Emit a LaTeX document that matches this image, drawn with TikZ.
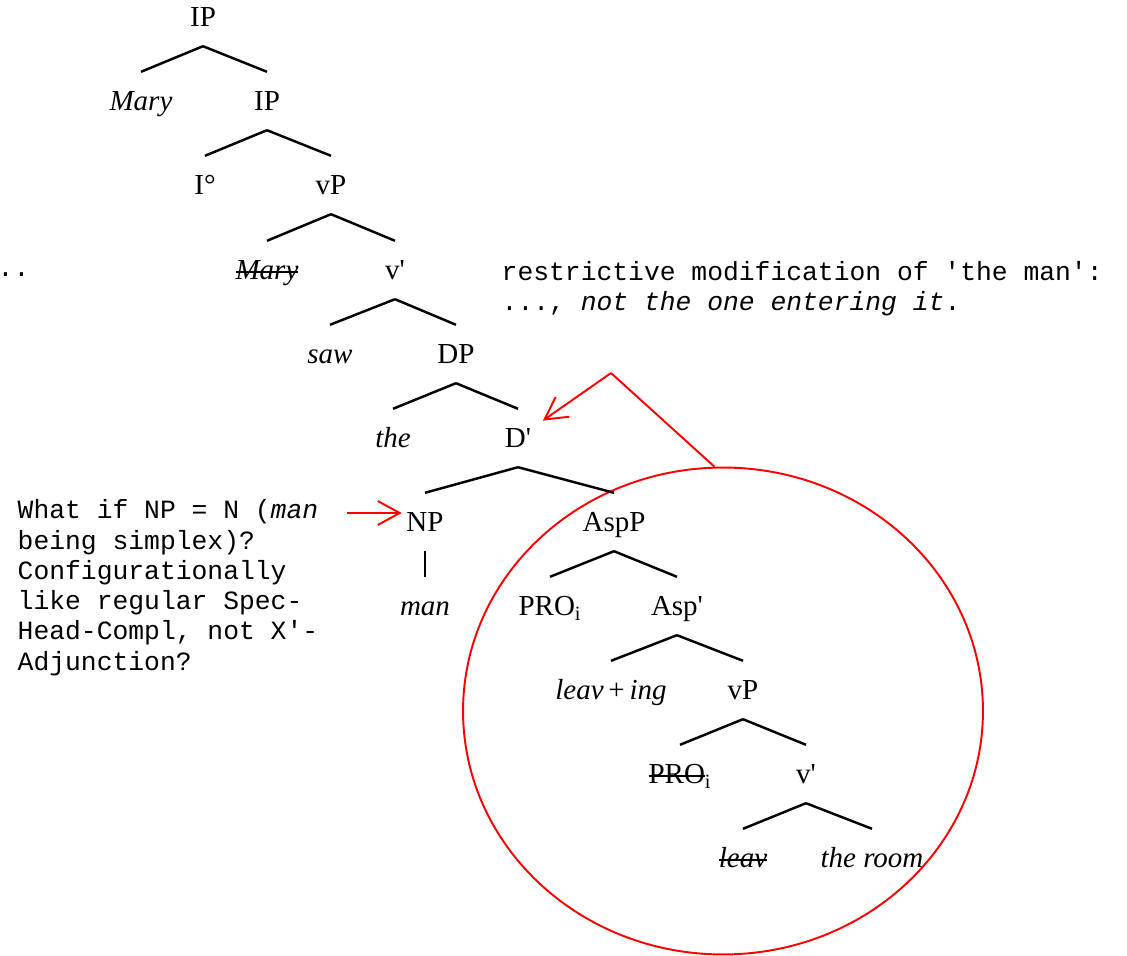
\documentclass[tikz,border=0pt]{standalone}
\usepackage{fontspec}
\usetikzlibrary{shapes.geometric,arrows.meta}
\newfontfamily\treefont{Liberation Serif}
\newfontfamily\notefont{Liberation Mono}
\newsavebox{\strkbox}
\newcommand{\strk}[1]{\sbox{\strkbox}{#1}\rlap{\rule[0.24em]{\wd\strkbox}{0.9pt}}\usebox{\strkbox}}
\begin{document}
\begin{tikzpicture}[x=0.02cm,y=-0.02cm,
                    thick,tree node/.style={font=\treefont\fontsize{16.5}{18}\selectfont,inner sep=0pt,text height=0.76cm,text depth=0.38cm},
                    note/.style={font=\notefont\fontsize{15}{17.2}\selectfont,align=left,inner sep=0pt},
                    branch/.style={line width=1.4pt},
                    red line/.style={red,line width=1.1pt},
                    red arrow/.style={red line,-{Straight Barb[length=0.44cm,width=0.48cm]}}
                    ]
              \useasboundingbox (0,0) rectangle (1127,956);
              \node[tree node] (ip1) at (203,17) {IP};
              \node[tree node] (mary1) at (141,101) {\textit{Mary}};
              \node[tree node] (ip2) at (267,101) {IP};
              \node[tree node] (i0) at (205,185) {I°};
              \node[tree node] (vp1) at (331,185) {vP};
              \node[tree node] (mary2) at (267,270) {\strk{\textit{Mary}}};
              \node[tree node] (vbar1) at (395,270) {v'};
              \node[tree node] (saw) at (330,354) {\textit{saw}};
              \node[tree node] (dp) at (456,354) {DP};
              \node[tree node] (the1) at (393,438) {\textit{the}};
              \node[tree node] (dbar) at (518,438) {D'};
              \node[tree node] (np) at (425,522) {NP};
              \node[tree node] (aspp) at (614,522) {AspP};
              \node[tree node] (man) at (425,606) {\textit{man}};
              \node[tree node] (pro1) at (550,606) {PRO\textsubscript{i}};
              \node[tree node] (aspbar) at (677,606) {Asp'};
              \node[tree node] (leaving) at (611,690) {\textit{leav}\,+\,\textit{ing}};
              \node[tree node] (vp2) at (743,690) {vP};
              \node[tree node] (pro2) at (680,774) {\strk{PRO}\textsubscript{i}};
              \node[tree node] (vbar2) at (806,774) {v'};
              \node[tree node] (leav) at (743,858) {\strk{\textit{leav}}};
              \node[tree node] (room) at (872,858) {\textit{the room}};
              % notes (base = last line)
              \node[note,anchor=base west] (dots) at (-3,277) {..};
              \node[note,anchor=base west] (restr) at (501,311) {restrictive modification of 'the man':\\..., \textit{not the one entering it}.};
              \node[note,anchor=base west] (query) at (17,670) {What if NP = N (\textit{man}\\being simplex)?\\Configurationally\\like regular Spec-\\Head-Compl, not X'-\\Adjunction?};
              \node[draw=red,line width=1.1pt,ellipse,inner sep=0pt,minimum width=10.4cm,minimum height=9.74cm] (ring) at (723,711) {};
              \coordinate (bend) at (611,373);
              \coordinate (qa) at (347,513);
              \path[branch]%
                (ip1.south) edge (mary1.north)
                (ip1.south) edge (ip2.north)
                (ip2.south) edge (i0.north)
                (ip2.south) edge (vp1.north)
                (vp1.south) edge (mary2.north)
                (vp1.south) edge (vbar1.north)
                (vbar1.south) edge (saw.north)
                (vbar1.south) edge (dp.north)
                (dp.south) edge (the1.north)
                (dp.south) edge (dbar.north)
                (dbar.south) edge (np.north)
                (dbar.south) edge (aspp.north)
                (np.south) edge (man.north)
                (aspp.south) edge (pro1.north)
                (aspp.south) edge (aspbar.north)
                (aspbar.south) edge (leaving.north)
                (aspbar.south) edge (vp2.north)
                (vp2.south) edge (pro2.north)
                (vp2.south) edge (vbar2.north)
                (vbar2.south) edge (leav.north)
                (vbar2.south) edge (room.north);
              \draw[red line] (ring.92) -- (bend);
              \draw[red arrow,shorten >=0.27cm] (bend) -- (dbar);
              \draw[red arrow] (qa) -- ([shift={(-4,-9)}]np.west);
          \end{tikzpicture}
\end{document}
